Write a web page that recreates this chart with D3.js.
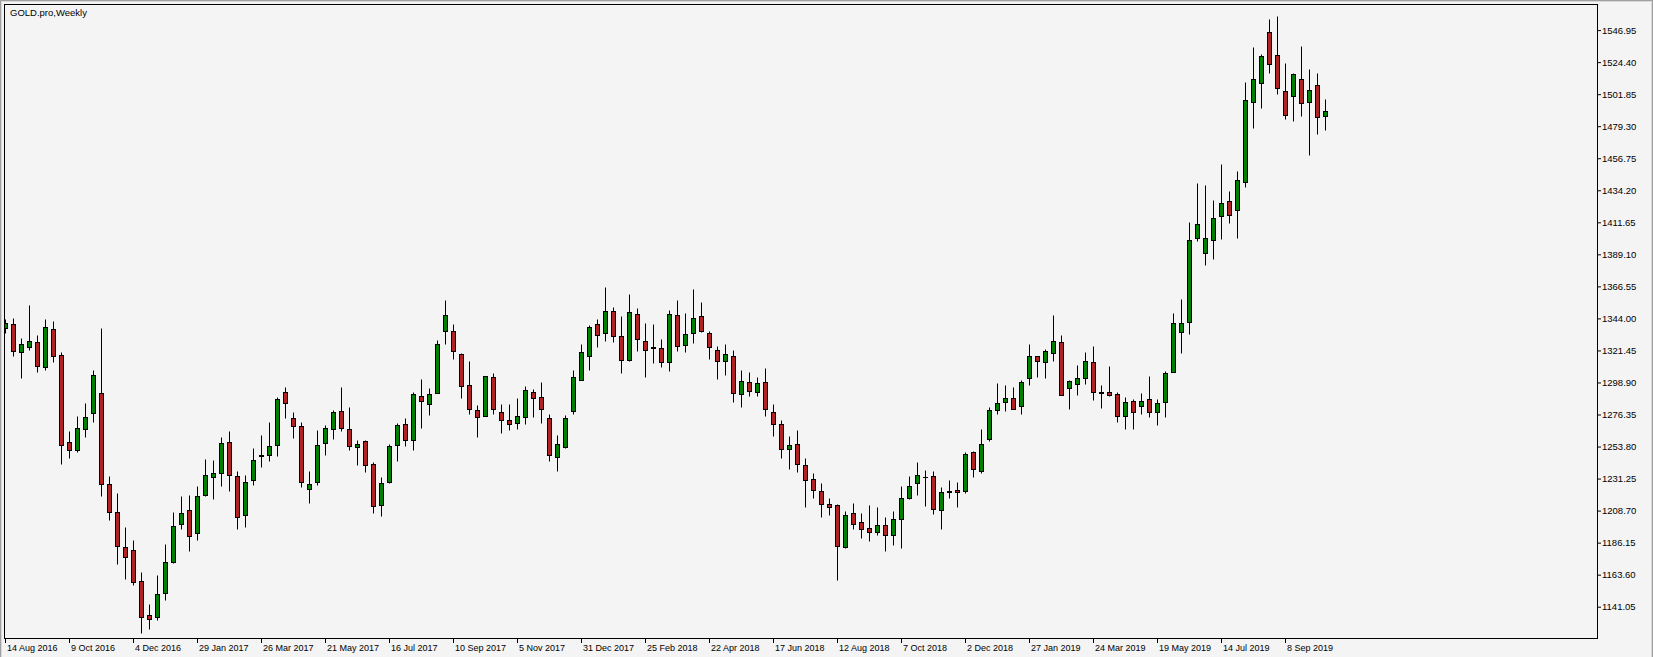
<!DOCTYPE html>
<html>
<head>
<meta charset="utf-8">
<script src="https://cdn.jsdelivr.net/npm/d3@7/dist/d3.min.js"></script>
<style>
  html, body { margin: 0; padding: 0; background: #f4f4f4; }
  svg { display: block; }
  text { font-family: "Liberation Sans", Arial, sans-serif; font-size: 9.5px; fill: #000; }
</style>
</head>
<body>
<svg id="chart" width="1653" height="657"></svg>
<script>
// ---- DATA (weekly OHLC, GOLD.pro) ----
const startWeek = "2016-08-14";
const open = [1337.4,1340.2,1320.5,1324.0,1327.5,1309.7,1336.6,1318.4,1257.1,1251.3,1266.3,1277.5,1291.6,1227.5,1207.8,1183.2,1181.1,1159.3,1135.3,1133.9,1150.8,1172.4,1199.4,1209.2,1192.8,1219.6,1232.5,1235.3,1257.1,1233.2,1205.7,1230.4,1247.3,1247.9,1255.0,1292.3,1274.0,1268.4,1224.0,1228.9,1256.4,1266.3,1278.9,1266.3,1253.6,1257.8,1241.8,1212.8,1228.9,1255.0,1269.8,1258.5,1289.5,1283.9,1291.8,1335.2,1335.2,1319.1,1297.2,1279.6,1275.4,1302.9,1278.2,1272.6,1270.5,1274.7,1292.3,1288.8,1274.0,1246.5,1253.6,1278.9,1300.8,1317.7,1340.2,1333.8,1349.3,1331.7,1314.8,1347.2,1328.2,1324.0,1323.3,1313.4,1346.5,1325.4,1333.8,1345.8,1333.8,1321.9,1314.1,1317.6,1290.9,1299.3,1292.3,1299.3,1278.2,1269.8,1252.2,1255.7,1240.9,1231.1,1222.6,1213.4,1212.8,1183.2,1207.1,1200.8,1196.6,1193.8,1198.7,1191.7,1202.9,1217.7,1228.2,1232.3,1233.2,1209.2,1222.1,1223.3,1222.6,1250.1,1236.7,1259.2,1279.6,1285.3,1288.1,1282.4,1302.2,1317.6,1313.4,1319.8,1327.5,1295.1,1297.9,1302.2,1313.4,1292.3,1292.3,1290.9,1275.4,1286.0,1282.5,1287.4,1278.2,1285.3,1306.4,1334.5,1341.6,1400.7,1390.1,1399.3,1416.2,1426.8,1420.4,1440.1,1496.5,1509.8,1545.7,1529.5,1504.2,1500.7,1512.6,1496.5,1508.4,1486.6];
const high = [1343.5,1344.4,1330.3,1353.1,1332.0,1343.7,1342.3,1320.2,1264.8,1275.0,1284.1,1308.0,1337.4,1233.4,1221.4,1197.5,1188.3,1165.8,1142.6,1163.7,1185.5,1207.4,1219.3,1220.0,1225.7,1244.7,1244.0,1260.2,1264.4,1236.9,1234.1,1252.9,1261.6,1271.4,1288.8,1295.4,1278.2,1271.0,1236.7,1265.1,1269.1,1279.2,1296.0,1281.3,1258.7,1258.5,1242.6,1232.7,1255.9,1270.5,1274.2,1292.5,1301.0,1294.7,1328.9,1357.3,1340.4,1319.8,1313.7,1282.7,1303.8,1305.7,1283.9,1283.9,1288.1,1296.5,1294.4,1299.3,1276.8,1262.0,1276.1,1307.8,1326.1,1339.5,1343.7,1366.4,1352.1,1345.8,1361.3,1351.4,1340.9,1340.2,1329.6,1350.0,1357.1,1347.9,1364.8,1355.7,1335.2,1324.7,1326.1,1321.9,1307.8,1306.4,1302.9,1309.2,1283.9,1272.6,1261.3,1265.5,1245.8,1235.3,1228.2,1217.7,1213.4,1208.5,1214.2,1207.1,1212.8,1211.3,1204.3,1208.5,1226.1,1233.3,1243.0,1237.4,1236.7,1225.4,1230.4,1229.0,1250.1,1250.8,1266.3,1281.7,1298.6,1297.2,1295.8,1300.7,1326.1,1317.8,1322.6,1346.5,1332.4,1300.7,1311.3,1320.5,1324.7,1297.2,1310.6,1292.3,1288.8,1287.4,1291.6,1303.6,1287.4,1307.1,1347.9,1357.8,1412.0,1439.4,1438.0,1427.5,1452.8,1433.8,1447.9,1510.5,1535.2,1530.3,1554.9,1557.0,1523.9,1516.9,1535.9,1519.7,1516.9,1498.6];
const low = [1334.0,1317.4,1301.9,1321.6,1306.2,1307.8,1313.2,1241.6,1245.6,1249.9,1260.4,1271.0,1218.9,1202.4,1170.8,1160.4,1156.2,1122.6,1125.2,1131.6,1145.6,1171.5,1195.4,1180.2,1187.9,1218.9,1216.8,1225.9,1222.4,1195.4,1197.3,1226.6,1239.3,1243.5,1247.0,1273.8,1259.7,1225.4,1214.2,1226.8,1247.7,1259.0,1264.6,1251.2,1240.7,1235.8,1207.1,1204.8,1227.8,1243.5,1254.1,1251.2,1266.7,1275.9,1291.4,1326.1,1315.3,1288.0,1277.0,1260.4,1275.0,1276.8,1263.2,1265.3,1266.0,1269.5,1274.5,1270.2,1243.5,1236.7,1252.9,1276.6,1300.7,1307.8,1323.8,1328.0,1327.5,1305.7,1314.1,1321.2,1302.9,1312.7,1309.7,1307.1,1321.2,1320.2,1326.8,1334.5,1315.5,1301.4,1304.0,1285.3,1281.7,1289.5,1289.5,1275.4,1261.1,1245.6,1237.9,1235.8,1211.1,1217.4,1204.1,1205.5,1159.9,1182.5,1195.9,1189.5,1187.2,1191.7,1180.4,1184.6,1182.5,1217.0,1219.8,1212.1,1206.4,1195.9,1217.5,1211.3,1221.2,1232.5,1235.3,1257.8,1276.8,1278.9,1280.0,1276.8,1297.2,1302.9,1302.2,1314.1,1290.0,1280.3,1290.2,1297.9,1286.7,1281.0,1289.5,1271.2,1266.3,1266.3,1276.8,1274.7,1269.1,1274.7,1306.2,1319.8,1333.1,1398.6,1381.7,1385.9,1400.0,1411.3,1400.7,1436.6,1478.2,1492.2,1516.9,1502.1,1484.5,1483.1,1486.6,1459.2,1473.9,1476.7];
const close = [1340.9,1320.9,1326.1,1328.2,1310.6,1338.1,1317.7,1255.0,1251.5,1267.0,1274.7,1304.3,1227.5,1207.8,1183.6,1176.2,1158.6,1133.9,1132.5,1150.1,1172.6,1198.0,1207.1,1191.0,1219.1,1233.9,1235.5,1256.4,1233.9,1204.2,1228.9,1244.4,1248.0,1254.3,1287.4,1284.6,1268.6,1228.9,1227.5,1255.0,1267.0,1278.2,1267.0,1254.3,1255.7,1240.9,1212.1,1228.2,1254.5,1269.1,1258.5,1290.9,1286.0,1290.9,1326.1,1346.7,1320.7,1296.5,1280.3,1274.9,1303.6,1280.3,1272.6,1269.8,1275.4,1293.7,1288.1,1280.3,1248.0,1255.7,1274.0,1302.9,1320.5,1338.1,1332.4,1349.3,1331.7,1314.8,1348.6,1329.6,1321.9,1323.3,1313.4,1347.2,1324.7,1333.1,1344.4,1335.2,1324.0,1314.1,1319.1,1291.6,1300.1,1293.0,1298.6,1280.3,1269.8,1252.2,1255.0,1241.6,1230.4,1223.3,1213.4,1211.3,1183.9,1205.7,1199.4,1195.9,1193.8,1198.7,1191.7,1202.9,1217.7,1226.1,1233.9,1232.6,1209.9,1221.9,1222.4,1221.9,1248.7,1238.1,1255.7,1279.6,1284.6,1288.1,1280.3,1299.3,1317.6,1314.1,1321.2,1328.2,1290.2,1300.1,1302.2,1314.1,1292.3,1291.6,1290.2,1275.4,1285.3,1278.2,1286.0,1278.2,1284.6,1305.7,1340.9,1340.9,1399.3,1410.6,1400.7,1414.8,1425.4,1416.9,1441.5,1497.9,1512.6,1528.8,1523.2,1506.3,1487.3,1516.2,1495.8,1504.9,1485.9,1490.1];
const xTickLabels = ["14 Aug 2016","9 Oct 2016","4 Dec 2016","29 Jan 2017","26 Mar 2017","21 May 2017","16 Jul 2017","10 Sep 2017","5 Nov 2017","31 Dec 2017","25 Feb 2018","22 Apr 2018","17 Jun 2018","12 Aug 2018","7 Oct 2018","2 Dec 2018","27 Jan 2019","24 Mar 2019","19 May 2019","14 Jul 2019","8 Sep 2019"];
const yTickLabels = ["1141.05","1163.60","1186.15","1208.70","1231.25","1253.80","1276.35","1298.90","1321.45","1344.00","1366.55","1389.10","1411.65","1434.20","1456.75","1479.30","1501.85","1524.40","1546.95"];
const title = "GOLD.pro,Weekly";

// ---- LAYOUT ----
const W = 1653, H = 657;
const frame = {left: 4.5, top: 4.5, right: 1597.5, bottom: 638.5};
const BULL = "#008000", BEAR = "#b22222";

const svg = d3.select("#chart");
svg.append("rect").attr("width", W).attr("height", H).attr("fill", "#f4f4f4");

// window edges
svg.append("line").attr("x1", 0.5).attr("x2", 0.5).attr("y1", 0).attr("y2", H).attr("stroke", "#a0a0a0");
svg.append("line").attr("x1", 1.5).attr("x2", 1.5).attr("y1", 1).attr("y2", H).attr("stroke", "#d8d8d8");
svg.append("line").attr("x1", 0).attr("x2", W).attr("y1", 0.5).attr("y2", 0.5).attr("stroke", "#a0a0a0");
svg.append("line").attr("x1", 1).attr("x2", W).attr("y1", 1.5).attr("y2", 1.5).attr("stroke", "#d8d8d8");
svg.append("line").attr("x1", W - 0.5).attr("x2", W - 0.5).attr("y1", 0).attr("y2", H).attr("stroke", "#a0a0a0");
svg.append("line").attr("x1", W - 1.5).attr("x2", W - 1.5).attr("y1", 1).attr("y2", H).attr("stroke", "#d8d8d8");

const n = open.length;
const idx = d3.range(n);
const x = d3.scaleLinear().domain([0, n - 1]).range([5, 5 + 8 * (n - 1)]);
const yMin = +yTickLabels[0], yMax = +yTickLabels[yTickLabels.length - 1];
const y = d3.scaleLinear().domain([yMin, yMax]).range([606.7, 30.1]);

svg.append("clipPath").attr("id", "plotclip")
  .append("rect").attr("x", frame.left + 0.5).attr("y", frame.top + 0.5)
  .attr("width", frame.right - frame.left - 1).attr("height", frame.bottom - frame.top - 1);

const plot = svg.append("g").attr("clip-path", "url(#plotclip)");
const px = i => Math.round(x(i)) + 0.5;
const py = v => Math.round(y(v)) + 0.5;

const candles = plot.selectAll("g.c").data(idx).join("g").attr("class", "c");
candles.append("line")
  .attr("x1", px).attr("x2", px)
  .attr("y1", i => py(high[i])).attr("y2", i => py(low[i]))
  .attr("stroke", "#000").attr("stroke-width", 1);
candles.append("rect")
  .attr("x", i => px(i) - 2)
  .attr("width", 4)
  .attr("y", i => py(Math.max(open[i], close[i])))
  .attr("height", i => Math.max(0.001, py(Math.min(open[i], close[i])) - py(Math.max(open[i], close[i]))))
  .attr("fill", i => close[i] > open[i] ? BULL : (close[i] < open[i] ? BEAR : "#000"))
  .attr("stroke", "#000").attr("stroke-width", 1);

// frame
svg.append("rect").attr("x", frame.left).attr("y", frame.top)
  .attr("width", frame.right - frame.left).attr("height", frame.bottom - frame.top)
  .attr("fill", "none").attr("stroke", "#000").attr("stroke-width", 1);

// y axis (right)
const yAxis = d3.axisRight(y).tickValues(yTickLabels.map(Number))
  .tickSize(3).tickPadding(1).tickFormat((d, i) => yTickLabels[i]);
const gy = svg.append("g").attr("transform", `translate(${frame.right + 0.5},0)`).call(yAxis);
gy.select(".domain").remove();
gy.selectAll(".tick line").attr("stroke", "#000");
gy.selectAll("text").style("font-family", '"Liberation Sans", Arial, sans-serif').style("font-size", "9.5px").attr("fill", "#000");

// x axis (bottom)
const xTickIdx = xTickLabels.map((_, k) => k * 8);
const xAxis = d3.axisBottom(x).tickValues(xTickIdx).tickSize(4).tickPadding(2)
  .tickFormat((d, k) => xTickLabels[k]);
const gx = svg.append("g").attr("transform", `translate(0,${frame.bottom + 0.5})`).call(xAxis);
gx.select(".domain").remove();
gx.selectAll(".tick line").attr("stroke", "#000");
gx.selectAll("text").attr("text-anchor", "start").attr("x", 1.5)
  .style("font-family", '"Liberation Sans", Arial, sans-serif').style("font-size", "9px").attr("fill", "#000");

// title
svg.append("text").attr("x", 10).attr("y", 15.5).text(title);
</script>
</body>
</html>
